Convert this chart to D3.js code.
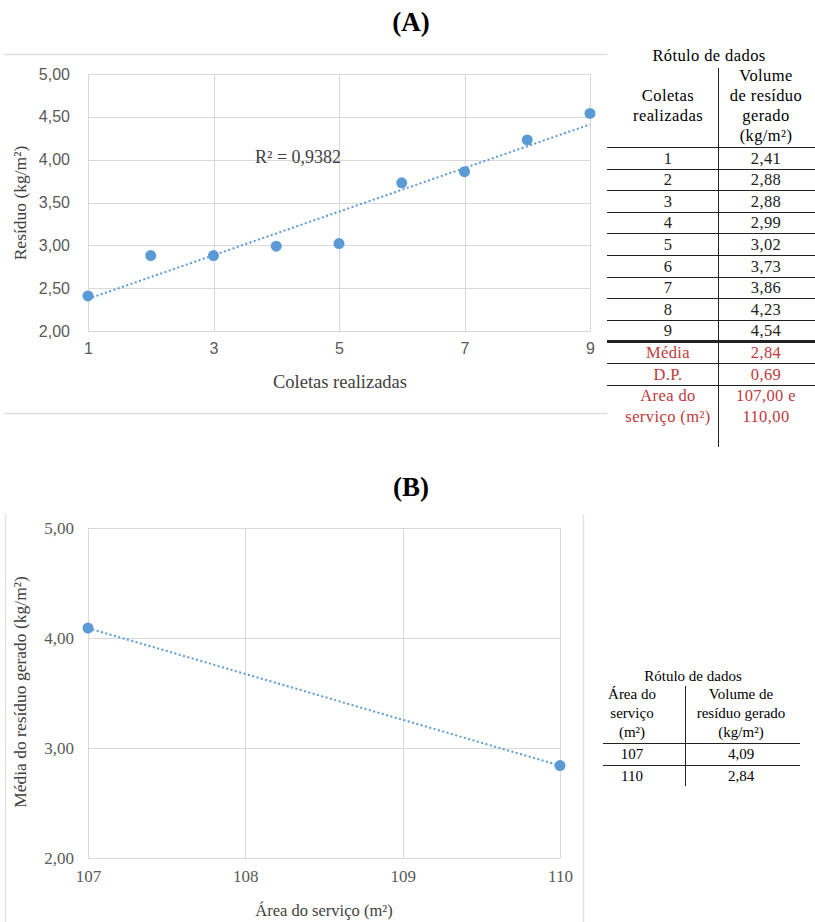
<!DOCTYPE html>
<html>
<head>
<meta charset="utf-8">
<script src="https://cdn.jsdelivr.net/npm/d3@7"></script>
<style>
  body { margin: 0; background: #fff; }
  svg { display: block; }
</style>
</head>
<body>
<div id="chart"></div>
<script>
var w = 815, h = 922;

// chart A data
var coletas = [1, 2, 3, 4, 5, 6, 7, 8, 9];
var residuo = [2.41, 2.88, 2.88, 2.99, 3.02, 3.73, 3.86, 4.23, 4.54];
var xTicksA = [1, 3, 5, 7, 9];
var yTicksA = [2, 2.5, 3, 3.5, 4, 4.5, 5];
var r2Label = "R² = 0,9382";
var statLabels = ["Média", "D.P."];
var statValues = ["2,84", "0,69"];

// chart B data
var areas = [107, 110];
var mediaResiduo = [4.09, 2.84];
var xTicksB = [107, 108, 109, 110];
var yTicksB = [2, 3, 4, 5];

var ptBR = d3.formatLocale({decimal: ",", thousands: ".", grouping: [3], currency: ["", ""]});
var f2 = ptBR.format(".2f");

var BLUE = "#5b9bd5", GRID = "#d9d9d9", TICK = "#595959", RED = "#c0393b";
var SERIF = "'Liberation Serif', 'Times New Roman', serif";
var SANS = "'Liberation Sans', Arial, sans-serif";

var svg = d3.select("#chart").append("svg")
    .attr("width", w).attr("height", h);

// least squares line, for the dotted trendline
function fit(xs, ys) {
  var mx = d3.mean(xs), my = d3.mean(ys);
  var num = d3.sum(xs, function(x, i) { return (x - mx) * (ys[i] - my); });
  var den = d3.sum(xs, function(x) { return (x - mx) * (x - mx); });
  var b = num / den;
  return function(x) { return my + b * (x - mx); };
}

// ---------- (A) ----------
svg.append("text").attr("x", 411).attr("y", 31)
  .attr("text-anchor", "middle").attr("font-family", SERIF)
  .attr("font-weight", "bold").attr("font-size", 27).text("(A)");

// frame: only top and bottom rules
[54.5, 413.5].forEach(function(y) {
  svg.append("line").attr("x1", 4).attr("x2", 607).attr("y1", y).attr("y2", y)
    .attr("stroke", "#dedede").attr("stroke-width", 1.5);
});

var xA = d3.scaleLinear().domain([1, 9]).range([88, 590]);
var yA = d3.scaleLinear().domain([2, 5]).range([331, 74]);

var gA = svg.append("g");
gA.append("g").selectAll("line").data(yTicksA).enter().append("line")
  .attr("x1", xA(1)).attr("x2", xA(9))
  .attr("y1", function(d) { return Math.round(yA(d)) + 0.5; })
  .attr("y2", function(d) { return Math.round(yA(d)) + 0.5; })
  .attr("stroke", GRID);
gA.append("g").selectAll("line").data(xTicksA).enter().append("line")
  .attr("x1", function(d) { return Math.round(xA(d)) + 0.5; })
  .attr("x2", function(d) { return Math.round(xA(d)) + 0.5; })
  .attr("y1", yA(5)).attr("y2", yA(2))
  .attr("stroke", GRID);

var axYA = gA.append("g").attr("transform", "translate(" + xA(1) + ",0)")
  .call(d3.axisLeft(yA).tickValues(yTicksA).tickFormat(f2).tickSize(0).tickPadding(18));
var axXA = gA.append("g").attr("transform", "translate(0," + yA(2) + ")")
  .call(d3.axisBottom(xA).tickValues(xTicksA).tickSize(0).tickPadding(12));
[axYA, axXA].forEach(function(a) {
  a.select(".domain").attr("stroke", GRID);
  a.selectAll("text").attr("font-family", SANS).attr("font-size", 16).attr("fill", TICK);
});

var tA = fit(coletas, residuo);
gA.append("line")
  .attr("x1", xA(1)).attr("y1", yA(tA(1)))
  .attr("x2", xA(9)).attr("y2", yA(tA(9)))
  .attr("stroke", BLUE).attr("stroke-width", 2)
  .attr("stroke-dasharray", "2,2.5");

gA.selectAll("circle").data(coletas).enter().append("circle")
  .attr("cx", function(d) { return xA(d); })
  .attr("cy", function(d, i) { return yA(residuo[i]); })
  .attr("r", 5.5).attr("fill", BLUE);

gA.append("text").attr("x", 255).attr("y", 163)
  .attr("font-family", SERIF).attr("font-size", 18).attr("fill", "#404040").text(r2Label);

gA.append("text").attr("x", 340).attr("y", 388).attr("text-anchor", "middle")
  .attr("font-family", SERIF).attr("font-size", 18.5).attr("fill", "#404040").text("Coletas realizadas");
gA.append("text").attr("transform", "translate(26,203) rotate(-90)").attr("text-anchor", "middle")
  .attr("font-family", SERIF).attr("font-size", 17.5).attr("fill", "#404040").text("Resíduo (kg/m²)");

// table A
var tb = svg.append("g").attr("font-family", SERIF).attr("font-size", 16.5).attr("letter-spacing", 0.4);
var cL = 668, cR = 766, tL = 607, tR = 815, vX = 718;
tb.append("text").attr("x", 709).attr("y", 61).attr("text-anchor", "middle").text("Rótulo de dados");
tb.append("line").attr("x1", vX + 0.5).attr("x2", vX + 0.5).attr("y1", 68).attr("y2", 447).attr("stroke", "#222");
["Coletas", "realizadas"].forEach(function(s, i) {
  tb.append("text").attr("x", cL).attr("y", 101 + i * 20).attr("text-anchor", "middle").text(s);
});
["Volume", "de resíduo", "gerado", "(kg/m²)"].forEach(function(s, i) {
  tb.append("text").attr("x", cR).attr("y", 81 + i * 20).attr("text-anchor", "middle").text(s);
});
var rowY = d3.scaleLinear().domain([0, 1]).range([147, 168.6]);
var rows = coletas.map(function(c, i) { return [String(c), f2(residuo[i]), "#222"]; })
  .concat(statLabels.map(function(s, i) { return [s, statValues[i], RED]; }));
rows.forEach(function(r, i) {
  var y0 = rowY(i);
  tb.append("line").attr("x1", tL).attr("x2", tR)
    .attr("y1", Math.round(y0) + 0.5).attr("y2", Math.round(y0) + 0.5)
    .attr("stroke", "#222").attr("stroke-width", i === 9 ? 3 : 1.2);
  tb.append("text").attr("x", cL).attr("y", y0 + 16.5).attr("text-anchor", "middle").attr("fill", r[2]).text(r[0]);
  tb.append("text").attr("x", cR).attr("y", y0 + 16.5).attr("text-anchor", "middle").attr("fill", r[2]).text(r[1]);
});
var yLast = rowY(rows.length);
tb.append("line").attr("x1", tL).attr("x2", tR)
  .attr("y1", Math.round(yLast) + 0.5).attr("y2", Math.round(yLast) + 0.5)
  .attr("stroke", "#222").attr("stroke-width", 1.2);
[["Area do", "107,00 e"], ["serviço (m²)", "110,00"]].forEach(function(p, i) {
  tb.append("text").attr("x", cL).attr("y", yLast + 16.5 + i * 21).attr("text-anchor", "middle").attr("fill", RED).text(p[0]);
  tb.append("text").attr("x", cR).attr("y", yLast + 16.5 + i * 21).attr("text-anchor", "middle").attr("fill", RED).text(p[1]);
});

// ---------- (B) ----------
svg.append("text").attr("x", 411).attr("y", 496)
  .attr("text-anchor", "middle").attr("font-family", SERIF)
  .attr("font-weight", "bold").attr("font-size", 27).text("(B)");

// frame: only side rules
[5.5, 583.5].forEach(function(x) {
  svg.append("line").attr("x1", x).attr("x2", x).attr("y1", 514).attr("y2", h)
    .attr("stroke", "#e3e3e3").attr("stroke-width", 1.5);
});

var xB = d3.scaleLinear().domain([107, 110]).range([88, 560]);
var yB = d3.scaleLinear().domain([2, 5]).range([858, 528]);

var gB = svg.append("g");
gB.append("g").selectAll("line").data(yTicksB).enter().append("line")
  .attr("x1", xB(107)).attr("x2", xB(110))
  .attr("y1", function(d) { return Math.round(yB(d)) + 0.5; })
  .attr("y2", function(d) { return Math.round(yB(d)) + 0.5; })
  .attr("stroke", GRID);
gB.append("g").selectAll("line").data(xTicksB).enter().append("line")
  .attr("x1", function(d) { return Math.round(xB(d)) + 0.5; })
  .attr("x2", function(d) { return Math.round(xB(d)) + 0.5; })
  .attr("y1", yB(5)).attr("y2", yB(2))
  .attr("stroke", GRID);

var axYB = gB.append("g").attr("transform", "translate(" + xB(107) + ",0)")
  .call(d3.axisLeft(yB).tickValues(yTicksB).tickFormat(f2).tickSize(0).tickPadding(14));
var axXB = gB.append("g").attr("transform", "translate(0," + yB(2) + ")")
  .call(d3.axisBottom(xB).tickValues(xTicksB).tickFormat(d3.format("d")).tickSize(0).tickPadding(12));
[axYB, axXB].forEach(function(a) {
  a.select(".domain").attr("stroke", GRID);
  a.selectAll("text").attr("font-family", SERIF).attr("font-size", 17).attr("fill", TICK);
});

var tB = fit(areas, mediaResiduo);
gB.append("line")
  .attr("x1", xB(107)).attr("y1", yB(tB(107)))
  .attr("x2", xB(110)).attr("y2", yB(tB(110)))
  .attr("stroke", BLUE).attr("stroke-width", 2)
  .attr("stroke-dasharray", "2,2.5");

gB.selectAll("circle").data(areas).enter().append("circle")
  .attr("cx", function(d) { return xB(d); })
  .attr("cy", function(d, i) { return yB(mediaResiduo[i]); })
  .attr("r", 5.5).attr("fill", BLUE);

gB.append("text").attr("x", 324).attr("y", 916).attr("text-anchor", "middle")
  .attr("font-family", SERIF).attr("font-size", 16.5).attr("fill", "#404040").text("Área do serviço (m²)");
gB.append("text").attr("transform", "translate(26,692) rotate(-90)").attr("text-anchor", "middle")
  .attr("font-family", SERIF).attr("font-size", 17.5).attr("fill", "#404040").text("Média do resíduo gerado (kg/m²)");

// table B
var tb2 = svg.append("g").attr("font-family", SERIF).attr("font-size", 15);
var bL = 632, bR = 741, bV = 685;
tb2.append("text").attr("x", 693).attr("y", 681).attr("text-anchor", "middle").text("Rótulo de dados");
tb2.append("line").attr("x1", bV + 0.5).attr("x2", bV + 0.5).attr("y1", 686).attr("y2", 786).attr("stroke", "#222");
["Área do", "serviço", "(m²)"].forEach(function(s, i) {
  tb2.append("text").attr("x", bL).attr("y", 699 + i * 19).attr("text-anchor", "middle").text(s);
});
["Volume de", "resíduo gerado", "(kg/m²)"].forEach(function(s, i) {
  tb2.append("text").attr("x", bR).attr("y", 699 + i * 19).attr("text-anchor", "middle").text(s);
});
areas.forEach(function(a, i) {
  var y0 = 743 + i * 21.5;
  tb2.append("line").attr("x1", 603).attr("x2", 800)
    .attr("y1", Math.round(y0) + 0.5).attr("y2", Math.round(y0) + 0.5)
    .attr("stroke", "#222").attr("stroke-width", 1.2);
  tb2.append("text").attr("x", bL).attr("y", y0 + 16).attr("text-anchor", "middle").text(a);
  tb2.append("text").attr("x", bR).attr("y", y0 + 16).attr("text-anchor", "middle").text(f2(mediaResiduo[i]));
});
</script>
</body>
</html>
